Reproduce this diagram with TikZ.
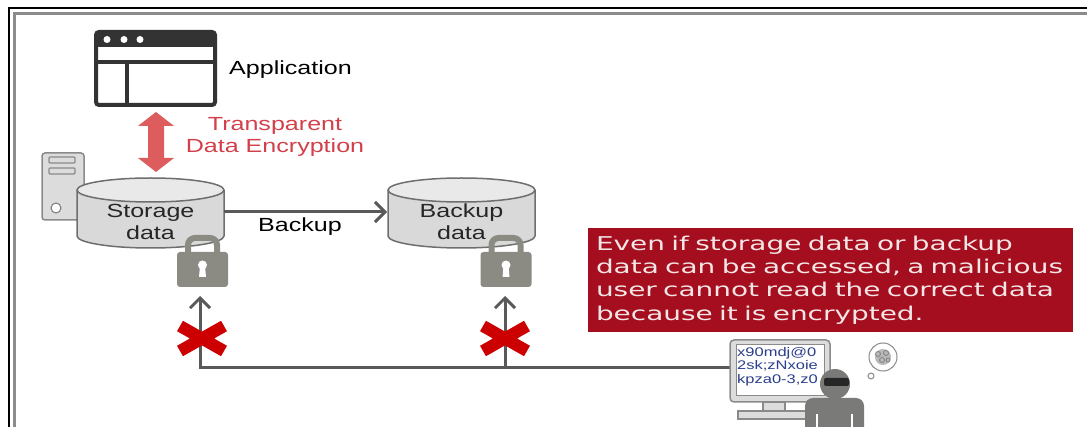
\documentclass[tikz,border=0pt]{standalone}
\usepackage{fontspec}
\setmainfont{Liberation Sans}[FakeStretch=1.32]
\newfontfamily\boxfont{DejaVu Sans}[FakeStretch=1.47]
\usetikzlibrary{arrows.meta}

\definecolor{wire}{HTML}{595959}
\definecolor{win}{HTML}{333333}
\definecolor{framegray}{HTML}{8C8C8C}
\definecolor{tdered}{HTML}{D2404A}
\definecolor{arrowred}{HTML}{DD5C5E}
\definecolor{cylfill}{HTML}{D9D9D9}
\definecolor{cyltop}{HTML}{E9E9E9}
\definecolor{cyledge}{HTML}{6E6E6E}
\definecolor{srvfill}{HTML}{DCDCDC}
\definecolor{srvedge}{HTML}{8A8A8A}
\definecolor{lockgray}{HTML}{8B8B84}
\definecolor{xred}{HTML}{CC0000}
\definecolor{boxred}{HTML}{A50E1E}
\definecolor{boxtext}{HTML}{F4E6E6}
\definecolor{screenblue}{HTML}{2B3F8C}
\definecolor{person}{HTML}{7A7A78}

\begin{document}
\begin{tikzpicture}[x=1pt, y=-1pt,
        txt/.style={font=\fontsize{19}{22}\selectfont, inner sep=0pt},
        wire/.style={draw=wire, line width=3pt},
        barb/.style={-{Straight Barb[length=10pt, width=20pt, line width=3pt]}}]
    \useasboundingbox (0,0) rectangle (1087,427);

    % page frame
    \draw[line width=1.5pt] (9,427) -- (9,8) -- (1087,8);
    \draw[framegray, line width=3pt] (14,427) -- (14,13.5) -- (1087,13.5);

    % application window
    \draw[win, line width=4pt, rounded corners=3pt] (96,32) rectangle (215,105);
    \fill[win, rounded corners=3pt] (96,32) rectangle (215,47);
    \foreach \dx in {107,124,140}
        \fill[white] (\dx,39.5) circle (3.5);
    \draw[win, line width=4pt] (96,62) -- (215,62);
    \draw[win, line width=4pt] (127,62) -- (127,105);
    \node (0) [txt, anchor=west] at (229,70) {Application};

    % TDE double arrow
    \fill[arrowred] (156,112) -- (174,126) -- (164,126) -- (164,158) -- (174,158)
        -- (156,172) -- (138,158) -- (148,158) -- (148,126) -- (138,126) -- cycle;
    \node (1) [txt, text=tdered, align=center] at (275,137) {Transparent\\Data Encryption};

    % server tower
    \draw[srvedge, fill=srvfill, line width=1.5pt, rounded corners=3pt] (42,153) rectangle (84,220);
    \draw[srvedge, line width=1.2pt, rounded corners=1pt] (49,157) rectangle (75,163);
    \draw[srvedge, line width=1.2pt, rounded corners=1pt] (49,168) rectangle (75,174);
    \draw[srvedge, fill=white, line width=1.2pt] (56,208) circle (5);

    % storage and backup drums
    \foreach \cx/\name/\lbl in {150.5/2/Storage, 461.5/3/Backup} {
        \fill[cylfill] (\cx-73.5,190) rectangle (\cx+73.5,236);
        \fill[cylfill] (\cx,236) ellipse [x radius=73.5, y radius=12];
        \draw[cyledge, line width=1.5pt] (\cx-73.5,190) -- (\cx-73.5,236)
            arc [start angle=180, end angle=0, x radius=73.5, y radius=12] -- (\cx+73.5,190);
        \draw[cyledge, fill=cyltop, line width=1.5pt] (\cx,190) ellipse [x radius=73.5, y radius=12];
        \node (\name) [txt, align=center, text=black!85] at (\cx,222) {\lbl\\data};
    }

    % backup arrow
    \node (4) at (224,212) {};
    \node (5) at (387,212) {};
    \draw[wire, barb] (4.center) to (5.center);
    \node (6) [txt] at (300,227) {Backup};

    % locks
    \foreach \lx in {202.5,506} {
        \draw[lockgray, line width=6pt, rounded corners=7pt] (\lx-14.5,256) -- (\lx-14.5,238)
            -- (\lx+14.5,238) -- (\lx+14.5,256);
        \fill[lockgray, rounded corners=3pt] (\lx-25.5,252) rectangle (\lx+25.5,287);
        \fill[white] (\lx,265) circle (4.5);
        \fill[white] (\lx-2.5,266) -- (\lx+2.5,266) -- (\lx+3.5,277) -- (\lx-3.5,277) -- cycle;
    }

    % access lines from the user
    \node (7) at (200,368) {};
    \node (8) at (200,296) {};
    \node (9) at (505,368) {};
    \node (10) at (505,296) {};
    \node (11) at (730,368) {};
    \draw[wire, barb] (11.center) -- (7.center) -- (8.center);
    \draw[wire, barb] (9.center) to (10.center);

    % blocked
    \foreach \xx in {202,505}
        \draw[xred, line width=12pt] (\xx-22,326) -- (\xx+22,351) (\xx-22,351) -- (\xx+22,326);

    % note
    \node (12) [fill=boxred, text=boxtext, minimum width=485pt, minimum height=104pt,
        inner xsep=8pt, text width=469pt, align=left,
        font=\boxfont\fontsize{19}{23.3}\selectfont] at (830.5,280)
        {Even if storage data or backup\\data can be accessed, a malicious\\user cannot read the correct data\\because it is encrypted.};

    % monitor
    \draw[srvedge, fill=srvfill, line width=1.5pt, rounded corners=4pt] (730,340) rectangle (830,402);
    \draw[srvedge, fill=white, line width=1pt] (736,345) rectangle (824,396);
    \node (13) [anchor=north west, inner sep=0pt, align=left, text=screenblue,
        font=\fontsize{12.5}{13.5}\selectfont] at (737,347) {x90mdj@0\\2sk;zNxoie\\kpza0-3,z0};
    \draw[srvedge, fill=srvfill, line width=1.2pt] (763,402) rectangle (785,411);
    \draw[srvedge, fill=srvfill, line width=1.2pt] (738,411) rectangle (810,419);

    % malicious user
    \fill[person, rounded corners=8pt] (805,398) rectangle (864,440);
    \fill[person] (835,384) circle (15);
    \fill[black!85, rounded corners=2pt] (824,378) rectangle (849,386);
    \draw[white, line width=1.5pt] (817,414) -- (817,427) (852,414) -- (852,427);
    \draw[srvedge, fill=white, line width=1pt] (883,357) circle (14);
    \draw[srvedge, fill=white, line width=1pt] (871,376) circle (3);
    \fill[gray!55] (883,357) circle (8);
    \draw[gray, line width=0.8pt] (878,354) circle (2.5) (886,353) circle (2.5) (882,360) circle (2.5) (888,360) circle (2);
\end{tikzpicture}
\end{document}
